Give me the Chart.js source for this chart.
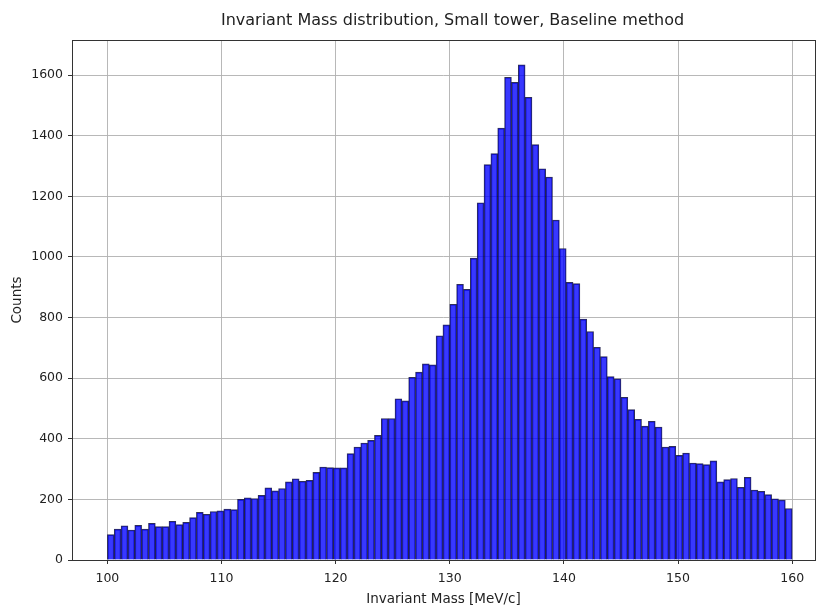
<!DOCTYPE html>
<html>
<head>
<meta charset="utf-8">
<script src="https://cdn.jsdelivr.net/npm/chart.js@4"></script>
<style>
  html, body { margin: 0; padding: 0; background: #fff; }
</style>
</head>
<body>
<canvas id="myChart" width="821" height="611"></canvas>
<script>
// histogram: 100 bins from 100 to 160
var binStart = 100
var binWidth = 0.6
var counts = [
    84, 102, 113, 99, 114, 102, 121, 110, 110, 128,
    117, 124, 140, 157, 151, 160, 162, 168, 166, 200,
    205, 203, 213, 238, 228, 236, 258, 268, 260, 263,
    289, 307, 305, 304, 304, 351, 373, 386, 395, 411,
    467, 467, 532, 525, 603, 620, 647, 644, 740, 776,
    844, 910, 893, 996, 1179, 1305, 1341, 1425, 1593, 1576,
    1634, 1527, 1371, 1291, 1264, 1122, 1028, 916, 912, 795,
    754, 702, 671, 605, 598, 537, 496, 464, 442, 458,
    439, 373, 375, 345, 353, 320, 318, 315, 327, 258,
    265, 269, 240, 273, 231, 227, 216, 202, 198, 170
]
var xTicks = [100, 110, 120, 130, 140, 150, 160]
var yTicks = [0, 200, 400, 600, 800, 1000, 1200, 1400, 1600]
var titleText = 'Invariant Mass distribution, Small tower, Baseline method'

var points = []
for (var i = 0, size = counts.length; i < size; i++) {
    points.push({x: binStart + binWidth * (i + 0.5), y: counts[i]})
}

var font = 'DejaVu Sans'

// frame round the plot + title centred over the axes
var boxPlugin = {
    id: 'box',
    afterDraw: function(chart) {
        var a = chart.chartArea
        var c = chart.ctx
        c.save()
        c.strokeStyle = '#333'
        c.lineWidth = 1
        c.strokeRect(Math.round(a.left) + 0.5, Math.round(a.top) + 0.5,
            Math.round(a.right - a.left), Math.round(a.bottom - a.top))
        c.fillStyle = '#222'
        c.font = '16px "' + font + '"'
        c.textAlign = 'center'
        c.textBaseline = 'middle'
        c.fillText(titleText, (a.left + a.right) / 2 + 9, 21)
        c.restore()
    }
}

var ctx = document.getElementById('myChart')

new Chart(ctx, {
    type: 'bar',
    data: {
        datasets: [{
            data: points,
            backgroundColor: 'rgba(0,0,255,0.78)',
            borderColor: 'rgba(10,10,60,0.85)',
            borderWidth: 1,
            barPercentage: 1,
            categoryPercentage: 1,
            grouped: false
        }]
    },
    plugins: [boxPlugin],
    options: {
        responsive: false,
        animation: false,
        layout: { padding: { top: 40, right: 6, left: 0, bottom: 0 } },
        plugins: {
            legend: { display: false },
            tooltip: { enabled: false },
            title: { display: false }
        },
        scales: {
            x: {
                type: 'linear',
                min: 96.9,
                max: 162,
                offset: false,
                z: 1,
                afterBuildTicks: function(axis) {
                    axis.ticks = xTicks.map(function(v) { return {value: v} })
                },
                afterFit: function(s) { s.height = 51 },
                grid: { offset: false, color: 'rgba(176,176,176,0.9)', tickColor: '#333', tickLength: 4 },
                border: { display: false },
                ticks: {
                    color: '#222', font: { family: font, size: 12.5 }, maxRotation: 0, padding: 7,
                    callback: function(v) { return String(v) }
                },
                title: {
                    display: true,
                    text: 'Invariant Mass [MeV/c]',
                    color: '#222',
                    font: { family: font, size: 13.5 },
                    padding: { top: 0, bottom: 3 }
                }
            },
            y: {
                min: 0,
                max: 1716,
                z: 1,
                afterBuildTicks: function(axis) {
                    axis.ticks = yTicks.map(function(v) { return {value: v} })
                },
                afterFit: function(s) { s.width = 72 },
                grid: { color: 'rgba(176,176,176,0.9)', tickColor: '#333', tickLength: 4 },
                border: { display: false },
                ticks: {
                    color: '#222', font: { family: font, size: 12.5 }, padding: 5,
                    callback: function(v) { return String(v) }
                },
                title: {
                    display: true,
                    text: 'Counts',
                    color: '#222',
                    font: { family: font, size: 13.5 },
                    padding: { top: 9, bottom: 0 }
                }
            }
        }
    }
})
</script>
</body>
</html>
